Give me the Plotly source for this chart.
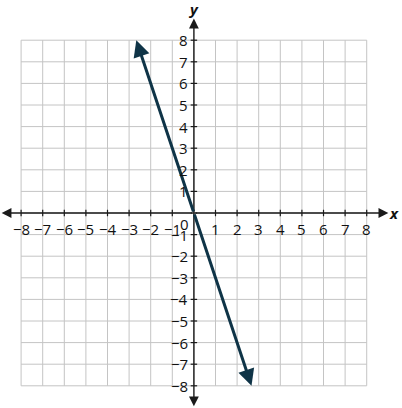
import plotly.graph_objects as go

# grid / tick values
ticks = list(range(-8, 9))
tick_labels = [("\u2212" + str(-t)) if t < 0 else str(t) for t in ticks]

# the line y = -3x, drawn between its two arrow tips
line_x = [-8 / 3, 8 / 3]
line_y = [8, -8]

# axis arrow ends
x_axis_ends = [-8.9, 9.0]
y_axis_ends = [-8.95, 9.0]

line_color = "#0f3447"
grid_color = "#c4c4c4"
axis_color = "#1a1a1a"
font = "Open Sans"

fig = go.Figure()

# grid lines
shapes = []
for t in ticks:
    shapes.append(dict(type="line", x0=t, x1=t, y0=-8, y1=8,
                       line=dict(color=grid_color, width=1), layer="below"))
    shapes.append(dict(type="line", x0=-8, x1=8, y0=t, y1=t,
                       line=dict(color=grid_color, width=1), layer="below"))

# small tick marks on the axes
for t in ticks:
    shapes.append(dict(type="line", x0=t, x1=t, y0=-0.15, y1=0.15,
                       line=dict(color=axis_color, width=1.2)))
    shapes.append(dict(type="line", x0=-0.15, x1=0.15, y0=t, y1=t,
                       line=dict(color=axis_color, width=1.2)))

annotations = []

# axes with arrow heads at both ends
for end in x_axis_ends:
    annotations.append(dict(x=end, y=0, ax=0, ay=0, xref="x", yref="y", axref="x", ayref="y",
                            showarrow=True, arrowhead=2, arrowsize=1.4, arrowwidth=1.4,
                            arrowcolor=axis_color, text=""))
for end in y_axis_ends:
    annotations.append(dict(x=0, y=end, ax=0, ay=0, xref="x", yref="y", axref="x", ayref="y",
                            showarrow=True, arrowhead=2, arrowsize=1.4, arrowwidth=1.4,
                            arrowcolor=axis_color, text=""))

# the graphed line with arrow heads at both ends
mid_x = sum(line_x) / 2
mid_y = sum(line_y) / 2
for lx, ly in zip(line_x, line_y):
    annotations.append(dict(x=lx, y=ly, ax=mid_x, ay=mid_y, xref="x", yref="y", axref="x", ayref="y",
                            showarrow=True, arrowhead=2, arrowsize=1.1, arrowwidth=3,
                            arrowcolor=line_color, text=""))

# tick labels
for t, lab in zip(ticks, tick_labels):
    if t == 0:
        continue
    annotations.append(dict(x=t, y=0, xref="x", yref="y", text=lab, showarrow=False,
                            yshift=-16, font=dict(family=font, size=15, color="#111")))
    annotations.append(dict(x=0, y=t, xref="x", yref="y", text=lab, showarrow=False,
                            xanchor="right", xshift=-4, font=dict(family=font, size=15, color="#111")))
annotations.append(dict(x=0, y=0, xref="x", yref="y", text="0", showarrow=False,
                        xanchor="right", xshift=-3, yshift=-11,
                        font=dict(family=font, size=15, color="#111")))

# axis names
annotations.append(dict(x=9.25, y=0, xref="x", yref="y", text="<b><i>x</i></b>", showarrow=False,
                        font=dict(family=font, size=15, color="#111")))
annotations.append(dict(x=0, y=9.45, xref="x", yref="y", text="<b><i>y</i></b>", showarrow=False,
                        font=dict(family=font, size=15, color="#111")))

fig.update_layout(
    width=402, height=408,
    margin=dict(l=0, r=0, t=0, b=0),
    paper_bgcolor="white", plot_bgcolor="white",
    shapes=shapes, annotations=annotations,
    showlegend=False,
    xaxis=dict(range=[-8.977, 9.634], visible=False, fixedrange=True),
    yaxis=dict(range=[-9.028, 9.861], visible=False, fixedrange=True),
)

# invisible trace so the axes exist
fig.add_trace(go.Scatter(x=line_x, y=line_y, mode="lines",
                         line=dict(color="rgba(0,0,0,0)"), hoverinfo="skip"))

# drop the page's default body margin so the figure sits at the top-left corner
fig.write_html("out.html", config={"displayModeBar": False},
               post_script="document.body.style.margin='0';document.body.style.overflow='hidden';")
